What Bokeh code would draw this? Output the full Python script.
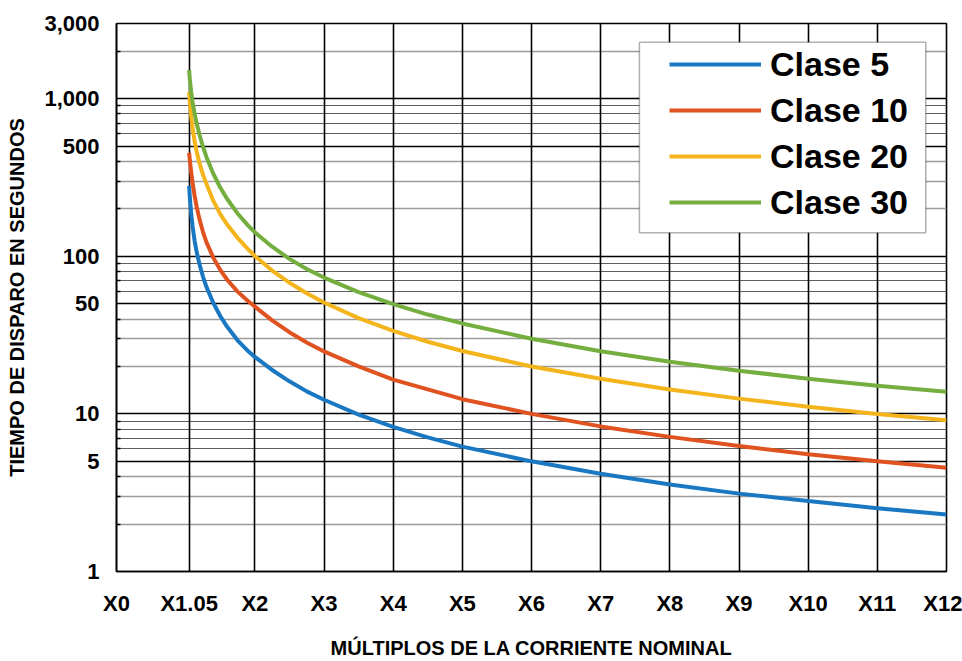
from bokeh.plotting import figure
from bokeh.models import (Range1d, FixedTicker, Grid, NumeralTickFormatter,
                          Legend, LegendItem, BoxAnnotation)
from bokeh.embed import file_html
from bokeh.resources import INLINE

# ---------------- data ----------------
x_mult = [1.05, 1.06, 1.08, 1.1, 1.13, 1.16, 1.2, 1.25, 1.3, 1.4, 1.5, 1.6, 1.75, 1.9, 2,
          2.25, 2.5, 2.75, 3, 3.5, 4, 4.5, 5, 6, 7, 8, 9, 10, 11, 12]
clase_5 = [280, 238, 186, 155, 125, 106, 89, 74.4, 64, 50.5, 41.8, 35.7, 29.3, 25.1, 23.0,
           19.0, 16.1, 13.9, 12.3, 9.9, 8.27, 7.1, 6.2, 5.0, 4.17, 3.57, 3.12, 2.8, 2.52, 2.3]
clase_10 = [454, 408, 341, 293, 241, 205, 171.5, 143, 123, 98, 82, 71, 59.7, 52, 48,
            39.2, 33, 28.4, 24.9, 20, 16.5, 14.3, 12.4, 10.0, 8.33, 7.15, 6.25, 5.55, 5.0, 4.55]
clase_20 = [1100, 958, 769, 650, 535, 459, 390, 330, 289, 224.5, 185, 159, 131, 111, 100.5,
            81.2, 68, 58.3, 50.9, 40.5, 33.6, 28.7, 25.05, 20, 16.7, 14.3, 12.5, 11.1, 10.0, 9.1]
clase_30 = [1520, 1333, 1100, 955, 800, 694, 590, 496, 427, 334, 273, 231, 187, 157, 142,
            115, 96.3, 83.1, 73.3, 59.2, 49.7, 42.7, 37.5, 30, 25, 21.4, 18.8, 16.7, 15.1, 13.8]

series_names = ["Clase 5", "Clase 10", "Clase 20", "Clase 30"]
series_values = [clase_5, clase_10, clase_20, clase_30]
series_colors = ["#1a78c2", "#e0521f", "#f4b41c", "#74ae3e"]

x_ticks = [0, 1.05, 2, 3, 4, 5, 6, 7, 8, 9, 10, 11, 12]
x_tick_labels = ["X0", "X1.05", "X2", "X3", "X4", "X5", "X6", "X7", "X8", "X9", "X10", "X11", "X12"]
y_major = [1, 5, 10, 50, 100, 500, 1000, 3000]
y_minor_light = [2, 3, 4, 20, 30, 40, 200, 300, 400, 2000]
y_minor_dark = [6, 7, 8, 9, 60, 70, 80, 90, 600, 700, 800, 900]

x_title = "MÚLTIPLOS DE LA CORRIENTE NOMINAL"
y_title = "TIEMPO DE DISPARO EN SEGUNDOS"

FONT = "Liberation Sans"

# ---------------- figure ----------------
p = figure(width=962, height=661, x_range=Range1d(0, 12), y_range=Range1d(1, 3000),
           y_axis_type="log", output_backend="svg", toolbar_location=None,
           min_border_left=116, min_border_right=16, min_border_top=23, min_border_bottom=86)
p.background_fill_color = "white"
p.border_fill_color = "white"
p.outline_line_color = "black"
p.outline_line_width = 1.6

# grids
p.xgrid.visible = False
p.ygrid.visible = False
for ticks, col, w in [(y_minor_light, "#9c9c9c", 1.3), (y_minor_dark, "#5e5e5e", 1.1), (y_major, "black", 1.6)]:
    p.add_layout(Grid(dimension=1, ticker=FixedTicker(ticks=ticks), grid_line_color=col, grid_line_width=w))
p.add_layout(Grid(dimension=0, ticker=FixedTicker(ticks=x_ticks), grid_line_color="black", grid_line_width=1.6))

# x axis (last label pulled slightly inside so it is not clipped)
x_label_pos = [min(v, 11.95) for v in x_ticks]
xa = p.xaxis[0]
xa.ticker = FixedTicker(ticks=x_label_pos)
xa.major_label_overrides = {pos: lab for pos, lab in zip(x_label_pos, x_tick_labels)}
xa.major_tick_in = 0
xa.major_tick_out = 0
xa.minor_tick_in = 0
xa.minor_tick_out = 0
xa.axis_line_color = "black"
xa.axis_line_width = 1.6
xa.major_label_standoff = 19
xa.major_label_text_font = FONT
xa.major_label_text_font_style = "bold"
xa.major_label_text_font_size = "22px"
xa.major_label_text_color = "black"
xa.axis_label = x_title
xa.axis_label_text_font = FONT
xa.axis_label_text_font_style = "bold"
xa.axis_label_text_font_size = "20px"
xa.axis_label_text_color = "black"
xa.axis_label_standoff = 18

# y axis
ya = p.yaxis[0]
ya.ticker = FixedTicker(ticks=y_major, minor_ticks=y_minor_light + y_minor_dark)
ya.formatter = NumeralTickFormatter(format="0,0")
ya.major_tick_in = 0
ya.major_tick_out = 0
ya.minor_tick_in = 4
ya.minor_tick_out = 0
ya.minor_tick_line_color = "black"
ya.minor_tick_line_width = 1.5
ya.axis_line_color = "black"
ya.axis_line_width = 1.6
ya.major_label_standoff = 17
ya.major_label_text_font = FONT
ya.major_label_text_font_style = "bold"
ya.major_label_text_font_size = "22px"
ya.major_label_text_color = "black"
ya.axis_label = y_title
ya.axis_label_text_font = FONT
ya.axis_label_text_font_style = "bold"
ya.axis_label_text_font_size = "20px"
ya.axis_label_text_color = "black"
ya.axis_label_standoff = 13

# curves
items = []
for name, vals, col in zip(series_names, series_values, series_colors):
    r = p.line(x_mult, vals, line_color=col, line_width=4, line_join="round")
    items.append(LegendItem(label=name, renderers=[r]))

# legend frame
box = BoxAnnotation(left=7.56, right=11.70, bottom=141, top=2283,
                    fill_color="white", fill_alpha=1.0, line_color="black", line_width=1.6)
p.add_layout(box)

legend = Legend(items=items, location=(553, 348), border_line_alpha=0, background_fill_alpha=0,
                padding=0, margin=0, spacing=4, glyph_width=92, glyph_height=42, label_height=42,
                label_standoff=9, label_text_font=FONT, label_text_font_style="bold",
                label_text_font_size="34px", label_text_color="black")
p.add_layout(legend)

open("out.html", "w").write(file_html(p, INLINE))
